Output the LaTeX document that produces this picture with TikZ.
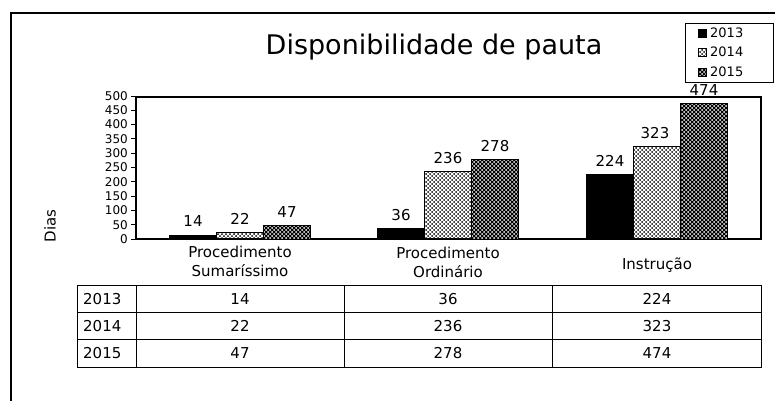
\documentclass[tikz,border=0pt]{standalone}
\usepackage{fontspec}
\setmainfont{DejaVu Sans}
\usetikzlibrary{patterns}

% coarse dot pattern for the 2014 and 2015 bars
\pgfdeclarepatternformonly{coarse dots}{\pgfqpoint{-1pt}{-1pt}}{\pgfqpoint{3pt}{3pt}}{\pgfqpoint{4pt}{4pt}}{
    \pgfpathcircle{\pgfqpoint{0pt}{0pt}}{1pt}
    \pgfpathcircle{\pgfqpoint{2pt}{2pt}}{1pt}
    \pgfusepath{fill}}

\begin{document}
\begin{tikzpicture}[x=1pt,y=-1pt]
    % Define styles
    \tikzstyle{frame}=[draw=black,line width=1.3pt]
    \tikzstyle{gridline}=[draw=black,line width=0.9pt]
    \tikzstyle{bar13}=[draw=black,line width=0.9pt,fill=black]
    \tikzstyle{bar14}=[draw=black,line width=0.9pt,pattern=coarse dots,pattern color=black]
    \tikzstyle{bar15}=[draw=black,line width=0.9pt,preaction={fill=black},pattern=coarse dots,pattern color=white]
    \tikzstyle{title}=[font=\fontsize{27}{32}\selectfont]
    \tikzstyle{val}=[font=\fontsize{15}{18}\selectfont,anchor=south,inner sep=0pt]
    \tikzstyle{cat}=[font=\fontsize{15}{19}\selectfont,align=center]
    \tikzstyle{tick}=[font=\fontsize{12}{14}\selectfont,anchor=east,inner sep=0pt]
    \tikzstyle{leg}=[font=\fontsize{13}{15}\selectfont,anchor=west,inner sep=0pt]
    \tikzstyle{cell}=[font=\fontsize{15}{18}\selectfont]

    \useasboundingbox (0,0) rectangle (775,400);
    \clip (0,0) rectangle (775,400);

    % Chart area and title
    \draw[frame] (11,13) rectangle (800,420);
    \node[title] (title) at (434,47) {Disponibilidade de pauta};

    % Legend
    \draw[gridline] (685,23) rectangle (773,82);
    \draw[bar13,line width=0.6pt] (698,29) rectangle (706,37);
    \draw[bar14,line width=0.6pt] (698,48) rectangle (706,56);
    \draw[bar15,line width=0.6pt] (698,68) rectangle (706,76);
    \node[leg] (leg13) at (710,33) {2013};
    \node[leg] (leg14) at (710,52) {2014};
    \node[leg] (leg15) at (710,72) {2015};

    % Plot area and axis
    \draw[frame] (136,97) rectangle (761,239);
    \foreach \v in {0,50,...,500} {
        \draw[line width=0.9pt] (131,{239-0.286*\v}) -- (136,{239-0.286*\v});
        \node[tick] (tick\v) at (128,{239-0.286*\v}) {\v};
    }
    \node[cat,rotate=90] (dias) at (50,226) {Dias};

    % Bars: Procedimento Sumarissimo
    \draw[bar13] (169.5,239) rectangle (216.5,235.0);
    \draw[bar14] (216.5,239) rectangle (263.5,232.7);
    \draw[bar15] (263.5,239) rectangle (310.5,225.6);
    \node[val] (v1a) at (193,227) {14};
    \node[val] (v1b) at (240,224.7) {22};
    \node[val] (v1c) at (287,217.6) {47};

    % Bars: Procedimento Ordinario
    \draw[bar13] (377.5,239) rectangle (424.5,228.7);
    \draw[bar14] (424.5,239) rectangle (471.5,171.5);
    \draw[bar15] (471.5,239) rectangle (518.5,159.5);
    \node[val] (v2a) at (401,220.7) {36};
    \node[val] (v2b) at (448,163.5) {236};
    \node[val] (v2c) at (495,151.5) {278};

    % Bars: Instrucao
    \draw[bar13] (586.5,239) rectangle (633.5,174.9);
    \draw[bar14] (633.5,239) rectangle (680.5,146.6);
    \draw[bar15] (680.5,239) rectangle (727.5,103.4);
    \node[val] (v3a) at (610,166.9) {224};
    \node[val] (v3b) at (655,138.6) {323};
    \node[val] (v3c) at (704,95.4) {474};

    % Category labels
    \node[cat] (c1) at (240,261) {Procedimento\\Sumaríssimo};
    \node[cat] (c2) at (448,262) {Procedimento\\Ordinário};
    \node[cat] (c3) at (657,265) {Instrução};

    % Data table
    \draw[gridline] (77,285) rectangle (761,367);
    \draw[gridline] (77,312.3) -- (761,312.3);
    \draw[gridline] (77,339.7) -- (761,339.7);
    \draw[gridline] (136,285) -- (136,367);
    \draw[gridline] (344.3,285) -- (344.3,367);
    \draw[gridline] (552.7,285) -- (552.7,367);
    \node[cell,anchor=west,inner sep=0pt] (y13) at (83,298.7) {2013};
    \node[cell,anchor=west,inner sep=0pt] (y14) at (83,326) {2014};
    \node[cell,anchor=west,inner sep=0pt] (y15) at (83,353.3) {2015};
    \node[cell] (t1a) at (240,298.7) {14};
    \node[cell] (t1b) at (240,326) {22};
    \node[cell] (t1c) at (240,353.3) {47};
    \node[cell] (t2a) at (448,298.7) {36};
    \node[cell] (t2b) at (448,326) {236};
    \node[cell] (t2c) at (448,353.3) {278};
    \node[cell] (t3a) at (657,298.7) {224};
    \node[cell] (t3b) at (657,326) {323};
    \node[cell] (t3c) at (657,353.3) {474};
\end{tikzpicture}
\end{document}
